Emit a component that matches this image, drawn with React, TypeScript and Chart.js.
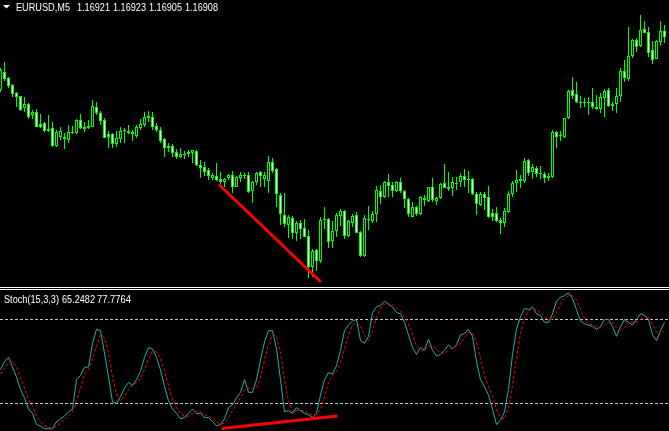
import React, { useEffect, useRef } from 'react';
import { Chart, registerables } from 'chart.js';

Chart.register(...registerables);

// ---------- text ----------
const symbolLabel = 'EURUSD,M5';
const quoteLabels = ['1.16921', '1.16923', '1.16905', '1.16908'];
const stochLabel = 'Stoch(15,3,3)';
const stochValueLabels = ['65.2482', '77.7764'];

// ---------- price data (EURUSD M5) ----------
const opens = [
  1.16802, 1.16838, 1.16826, 1.16812, 1.16796, 1.16790, 1.16766, 1.16774, 1.16752, 1.16758,
  1.16734, 1.16736, 1.16724, 1.16726, 1.16690, 1.16708, 1.16708, 1.16702, 1.16718, 1.16716,
  1.16742, 1.16728, 1.16726, 1.16728, 1.16768, 1.16756, 1.16742, 1.16714, 1.16714, 1.16694,
  1.16704, 1.16720, 1.16720, 1.16718, 1.16710, 1.16726, 1.16732, 1.16746, 1.16748, 1.16730,
  1.16722, 1.16704, 1.16686, 1.16690, 1.16678, 1.16668, 1.16674, 1.16674, 1.16676, 1.16680,
  1.16652, 1.16648, 1.16642, 1.16626, 1.16630, 1.16624, 1.16618, 1.16626, 1.16632, 1.16608,
  1.16626, 1.16632, 1.16632, 1.16600, 1.16618, 1.16638, 1.16624, 1.16620, 1.16658, 1.16644,
  1.16592, 1.16552, 1.16532, 1.16546, 1.16516, 1.16536, 1.16526, 1.16510, 1.16448, 1.16482,
  1.16460, 1.16544, 1.16544, 1.16500, 1.16520, 1.16550, 1.16560, 1.16510, 1.16536, 1.16552,
  1.16518, 1.16470, 1.16544, 1.16540, 1.16554, 1.16600, 1.16588, 1.16618, 1.16612, 1.16600,
  1.16618, 1.16600, 1.16584, 1.16548, 1.16568, 1.16554, 1.16582, 1.16580, 1.16608, 1.16580,
  1.16586, 1.16616, 1.16604, 1.16606, 1.16614, 1.16618, 1.16630, 1.16624, 1.16624, 1.16594,
  1.16572, 1.16594, 1.16588, 1.16556, 1.16556, 1.16542, 1.16536, 1.16558, 1.16594, 1.16616,
  1.16620, 1.16620, 1.16662, 1.16638, 1.16646, 1.16636, 1.16634, 1.16626, 1.16628, 1.16718,
  1.16710, 1.16708, 1.16746, 1.16802, 1.16794, 1.16778, 1.16776, 1.16778, 1.16778, 1.16768,
  1.16764, 1.16786, 1.16802, 1.16770, 1.16774, 1.16790, 1.16840, 1.16824, 1.16870, 1.16902,
  1.16890, 1.16924, 1.16918, 1.16882, 1.16864, 1.16898, 1.16921,
];
const highs = [
  1.16846, 1.16858, 1.16828, 1.16814, 1.16798, 1.16790, 1.16788, 1.16776, 1.16762, 1.16764,
  1.16754, 1.16738, 1.16752, 1.16738, 1.16722, 1.16728, 1.16716, 1.16732, 1.16730, 1.16744,
  1.16754, 1.16738, 1.16742, 1.16782, 1.16778, 1.16760, 1.16746, 1.16720, 1.16716, 1.16720,
  1.16728, 1.16726, 1.16732, 1.16722, 1.16732, 1.16744, 1.16758, 1.16760, 1.16758, 1.16736,
  1.16728, 1.16706, 1.16696, 1.16694, 1.16684, 1.16686, 1.16680, 1.16682, 1.16682, 1.16682,
  1.16662, 1.16658, 1.16646, 1.16636, 1.16656, 1.16638, 1.16626, 1.16634, 1.16640, 1.16630,
  1.16638, 1.16636, 1.16638, 1.16620, 1.16638, 1.16640, 1.16638, 1.16670, 1.16666, 1.16646,
  1.16596, 1.16596, 1.16552, 1.16550, 1.16540, 1.16542, 1.16544, 1.16522, 1.16484, 1.16484,
  1.16548, 1.16568, 1.16546, 1.16540, 1.16556, 1.16564, 1.16562, 1.16542, 1.16554, 1.16558,
  1.16520, 1.16552, 1.16570, 1.16560, 1.16610, 1.16612, 1.16620, 1.16634, 1.16618, 1.16620,
  1.16626, 1.16602, 1.16586, 1.16578, 1.16570, 1.16590, 1.16592, 1.16608, 1.16626, 1.16588,
  1.16616, 1.16654, 1.16638, 1.16628, 1.16628, 1.16636, 1.16644, 1.16640, 1.16626, 1.16598,
  1.16598, 1.16598, 1.16610, 1.16564, 1.16568, 1.16546, 1.16566, 1.16600, 1.16620, 1.16642,
  1.16632, 1.16666, 1.16664, 1.16654, 1.16650, 1.16650, 1.16638, 1.16636, 1.16722, 1.16720,
  1.16720, 1.16746, 1.16802, 1.16828, 1.16818, 1.16790, 1.16786, 1.16788, 1.16806, 1.16792,
  1.16796, 1.16804, 1.16806, 1.16778, 1.16806, 1.16846, 1.16862, 1.16928, 1.16904, 1.16906,
  1.16952, 1.16940, 1.16928, 1.16900, 1.16902, 1.16940, 1.16932,
];
const lows = [
  1.16798, 1.16820, 1.16806, 1.16788, 1.16768, 1.16760, 1.16758, 1.16744, 1.16744, 1.16728,
  1.16726, 1.16718, 1.16718, 1.16688, 1.16688, 1.16702, 1.16684, 1.16696, 1.16714, 1.16714,
  1.16724, 1.16718, 1.16724, 1.16728, 1.16752, 1.16732, 1.16706, 1.16686, 1.16686, 1.16688,
  1.16696, 1.16696, 1.16714, 1.16700, 1.16706, 1.16722, 1.16728, 1.16738, 1.16722, 1.16718,
  1.16696, 1.16668, 1.16678, 1.16668, 1.16664, 1.16666, 1.16664, 1.16668, 1.16656, 1.16650,
  1.16626, 1.16630, 1.16622, 1.16622, 1.16620, 1.16612, 1.16608, 1.16622, 1.16596, 1.16608,
  1.16618, 1.16624, 1.16596, 1.16576, 1.16612, 1.16608, 1.16608, 1.16596, 1.16636, 1.16568,
  1.16532, 1.16528, 1.16506, 1.16504, 1.16500, 1.16504, 1.16508, 1.16426, 1.16428, 1.16440,
  1.16456, 1.16524, 1.16486, 1.16486, 1.16508, 1.16530, 1.16504, 1.16508, 1.16528, 1.16516,
  1.16468, 1.16468, 1.16522, 1.16536, 1.16538, 1.16574, 1.16586, 1.16588, 1.16588, 1.16598,
  1.16596, 1.16566, 1.16548, 1.16548, 1.16550, 1.16552, 1.16570, 1.16578, 1.16578, 1.16572,
  1.16584, 1.16606, 1.16600, 1.16590, 1.16602, 1.16608, 1.16608, 1.16596, 1.16592, 1.16552,
  1.16570, 1.16562, 1.16546, 1.16540, 1.16538, 1.16514, 1.16528, 1.16556, 1.16588, 1.16598,
  1.16606, 1.16616, 1.16630, 1.16624, 1.16628, 1.16624, 1.16616, 1.16620, 1.16626, 1.16686,
  1.16700, 1.16706, 1.16744, 1.16784, 1.16776, 1.16766, 1.16768, 1.16752, 1.16764, 1.16762,
  1.16756, 1.16748, 1.16768, 1.16760, 1.16756, 1.16778, 1.16818, 1.16820, 1.16866, 1.16878,
  1.16888, 1.16916, 1.16868, 1.16854, 1.16864, 1.16890, 1.16896,
];
const closes = [
  1.16842, 1.16824, 1.16810, 1.16794, 1.16788, 1.16762, 1.16774, 1.16748, 1.16758, 1.16728,
  1.16728, 1.16720, 1.16720, 1.16690, 1.16718, 1.16720, 1.16704, 1.16718, 1.16716, 1.16742,
  1.16726, 1.16724, 1.16730, 1.16770, 1.16756, 1.16740, 1.16706, 1.16708, 1.16694, 1.16706,
  1.16720, 1.16722, 1.16716, 1.16714, 1.16728, 1.16734, 1.16748, 1.16750, 1.16728, 1.16722,
  1.16700, 1.16686, 1.16690, 1.16676, 1.16668, 1.16674, 1.16672, 1.16678, 1.16682, 1.16652,
  1.16646, 1.16638, 1.16630, 1.16632, 1.16622, 1.16618, 1.16624, 1.16632, 1.16608, 1.16628,
  1.16632, 1.16630, 1.16598, 1.16618, 1.16636, 1.16630, 1.16632, 1.16658, 1.16640, 1.16594,
  1.16554, 1.16534, 1.16548, 1.16516, 1.16536, 1.16524, 1.16508, 1.16448, 1.16480, 1.16460,
  1.16542, 1.16542, 1.16498, 1.16520, 1.16552, 1.16560, 1.16510, 1.16540, 1.16550, 1.16516,
  1.16470, 1.16546, 1.16542, 1.16554, 1.16602, 1.16588, 1.16618, 1.16610, 1.16600, 1.16618,
  1.16600, 1.16584, 1.16554, 1.16568, 1.16554, 1.16588, 1.16586, 1.16608, 1.16582, 1.16586,
  1.16614, 1.16606, 1.16608, 1.16618, 1.16616, 1.16630, 1.16622, 1.16622, 1.16594, 1.16574,
  1.16594, 1.16586, 1.16548, 1.16548, 1.16540, 1.16536, 1.16560, 1.16594, 1.16616, 1.16622,
  1.16624, 1.16660, 1.16636, 1.16648, 1.16634, 1.16634, 1.16626, 1.16630, 1.16718, 1.16708,
  1.16712, 1.16746, 1.16800, 1.16790, 1.16778, 1.16776, 1.16778, 1.16776, 1.16768, 1.16764,
  1.16788, 1.16800, 1.16770, 1.16774, 1.16790, 1.16840, 1.16826, 1.16870, 1.16902, 1.16888,
  1.16922, 1.16916, 1.16876, 1.16862, 1.16900, 1.16920, 1.16908,
];

// ---------- Stochastic (15,3,3) ----------
const stochK = [
  44, 50, 53, 46, 39, 30, 24, 16, 13, 5,
  4, 2, 2, 2, 7, 9, 11, 14, 16, 37,
  40, 46, 46, 63, 73, 72, 56, 39, 21, 20,
  25, 31, 35, 33, 37, 43, 53, 60, 59, 53,
  44, 32, 22, 16, 13, 9, 10, 13, 16, 13,
  13, 10, 10, 7, 4, 5, 9, 17, 19, 24,
  28, 37, 28, 28, 37, 51, 64, 72, 72, 59,
  37, 14, 15, 13, 17, 15, 13, 12, 10, 13,
  26, 37, 42, 41, 47, 58, 72, 76, 79, 80,
  65, 63, 68, 85, 89, 90, 93, 91, 89, 85,
  84, 78, 69, 60, 55, 60, 58, 66, 58, 54,
  55, 58, 62, 59, 62, 69, 70, 73, 68, 50,
  37, 32, 26, 16, 5, 8, 14, 30, 55, 73,
  82, 88, 87, 89, 84, 83, 78, 78, 84, 93,
  96, 97, 99, 95, 87, 79, 77, 76, 75, 73,
  75, 80, 80, 75, 68, 75, 80, 78, 76, 80,
  84, 83, 80, 69, 65, 72, 78,
];
const stochD = [
  41, 45, 49, 50, 46, 38, 31, 23, 18, 11,
  7, 4, 3, 2, 4, 6, 9, 11, 14, 22,
  31, 41, 44, 52, 61, 69, 67, 56, 39, 27,
  22, 25, 30, 33, 35, 38, 44, 52, 57, 57,
  52, 43, 33, 23, 17, 13, 11, 11, 13, 14,
  14, 12, 11, 9, 7, 5, 6, 10, 15, 20,
  24, 30, 31, 31, 31, 39, 51, 62, 69, 68,
  56, 37, 22, 14, 15, 15, 15, 13, 12, 12,
  16, 25, 35, 40, 43, 49, 59, 69, 76, 78,
  75, 69, 65, 72, 81, 88, 91, 91, 91, 88,
  86, 82, 77, 69, 61, 58, 58, 61, 61, 59,
  56, 56, 58, 60, 61, 63, 67, 71, 70, 64,
  52, 40, 32, 25, 16, 10, 9, 17, 33, 53,
  70, 81, 86, 88, 87, 85, 82, 80, 80, 85,
  91, 95, 97, 97, 94, 87, 81, 77, 76, 75,
  74, 76, 78, 78, 74, 73, 74, 78, 78, 78,
  80, 82, 82, 77, 71, 69, 72,
];
const stochLevels = [20, 80];

// ---------- hand-drawn trend lines (data coordinates) ----------
const priceTrend = [
  { x: 54.6, y: 1.16613 },
  { x: 80.1, y: 1.16418 },
];
const stochTrend = [
  { x: 55.3, y: 2.1 },
  { x: 84.2, y: 11.1 },
];

// ---------- axis ranges ----------
const xMin = -0.125;
const xMax = 167.125;
const priceMin = 1.1641;
const priceMax = 1.16982;
const stochMin = 0.36;
const stochMax = 101.07;

const GREEN = '#00FF00';

const priceHeaderPlugin = {
  id: 'priceHeader',
  afterDraw(chart: any) {
    const ctx = chart.ctx as CanvasRenderingContext2D;
    ctx.save();
    ctx.fillStyle = '#FFFFFF';
    ctx.beginPath();
    ctx.moveTo(3, 5);
    ctx.lineTo(10, 5);
    ctx.lineTo(6.5, 8.5);
    ctx.closePath();
    ctx.fill();
    ctx.font = '11px "Liberation Sans Narrow", "Liberation Sans", sans-serif';
    ctx.textBaseline = 'alphabetic';
    ctx.textAlign = 'left';
    ctx.fillText(symbolLabel, 16, 11, 54);
    quoteLabels.forEach((q, i) => ctx.fillText(q, 77 + 36 * i, 11, 33));
    ctx.restore();
  },
};

const stochHeaderPlugin = {
  id: 'stochHeader',
  afterDraw(chart: any) {
    const ctx = chart.ctx as CanvasRenderingContext2D;
    ctx.save();
    ctx.fillStyle = '#FFFFFF';
    ctx.fillRect(0, 1, chart.width, 1);
    ctx.fillRect(0, 3, chart.width, 1);
    ctx.font = '11px "Liberation Sans Narrow", "Liberation Sans", sans-serif';
    ctx.textBaseline = 'alphabetic';
    ctx.textAlign = 'left';
    ctx.fillText(stochLabel, 4, 17, 55);
    ctx.fillText(stochValueLabels[0], 62, 17, 33);
    ctx.fillText(stochValueLabels[1], 97, 17, 34);
    ctx.restore();
  },
};

export default function App() {
  const priceRef = useRef<HTMLCanvasElement | null>(null);
  const stochRef = useRef<HTMLCanvasElement | null>(null);

  useEffect(() => {
    document.body.style.margin = '0';
    document.body.style.background = '#000000';

    const bodies = opens.map((o, i) => ({ x: i, y: [o, closes[i]] }));
    const wicks = lows.map((l, i) => ({ x: i, y: [l, highs[i]] }));
    const bodyFill = opens.map((o, i) => (closes[i] < o ? '#FFFFFF' : '#000000'));

    const priceChart = new Chart(priceRef.current as HTMLCanvasElement, {
      type: 'bar',
      data: {
        datasets: [
          {
            type: 'line',
            data: priceTrend,
            borderColor: '#FF0000',
            borderWidth: 3,
            pointRadius: 0,
            order: 0,
          } as any,
          {
            type: 'bar',
            data: bodies as any,
            backgroundColor: bodyFill,
            borderColor: GREEN,
            borderWidth: 1,
            borderSkipped: false,
            barThickness: 3,
            inflateAmount: 0,
            stack: 'candles',
            order: 1,
          } as any,
          {
            type: 'bar',
            data: wicks as any,
            backgroundColor: GREEN,
            borderWidth: 0,
            barThickness: 1,
            inflateAmount: 0,
            stack: 'candles',
            order: 2,
          } as any,
        ],
      },
      options: {
        responsive: false,
        animation: false,
        events: [],
        layout: { padding: 0 },
        plugins: { legend: { display: false }, tooltip: { enabled: false } },
        scales: {
          x: { type: 'linear', min: xMin, max: xMax, display: false, offset: false },
          y: { type: 'linear', min: priceMin, max: priceMax, display: false, stacked: false },
        },
      } as any,
      plugins: [priceHeaderPlugin],
    });

    const kPoints = stochK.map((v, i) => ({ x: i, y: v }));
    const dPoints = stochD.map((v, i) => ({ x: i, y: v }));
    const levelSets = stochLevels.map((lv) => ({
      type: 'line',
      data: [
        { x: xMin, y: lv },
        { x: xMax, y: lv },
      ],
      borderColor: '#C8C8C8',
      borderWidth: 1,
      borderDash: [3, 2],
      pointRadius: 0,
      order: 4,
    }));

    const stochChart = new Chart(stochRef.current as HTMLCanvasElement, {
      type: 'line',
      data: {
        datasets: [
          {
            data: stochTrend,
            borderColor: '#FF0000',
            borderWidth: 3,
            pointRadius: 0,
            order: 0,
          },
          {
            data: dPoints,
            borderColor: '#FF0000',
            borderWidth: 1,
            borderDash: [3, 2],
            pointRadius: 0,
            tension: 0,
            order: 1,
          },
          {
            data: kPoints,
            borderColor: '#20B2AA',
            borderWidth: 1,
            pointRadius: 0,
            tension: 0,
            order: 2,
          },
          ...levelSets,
        ] as any,
      },
      options: {
        responsive: false,
        animation: false,
        events: [],
        layout: { padding: { top: 4, left: 0, right: 0, bottom: 0 } },
        plugins: { legend: { display: false }, tooltip: { enabled: false } },
        scales: {
          x: { type: 'linear', min: xMin, max: xMax, display: false },
          y: { type: 'linear', min: stochMin, max: stochMax, display: false },
        },
      } as any,
      plugins: [stochHeaderPlugin],
    });

    return () => {
      priceChart.destroy();
      stochChart.destroy();
    };
  }, []);

  return (
    <div style={{ position: 'relative', width: 669, height: 431, background: '#000000', overflow: 'hidden' }}>
      <canvas
        ref={priceRef}
        width={669}
        height={286}
        style={{ position: 'absolute', left: 0, top: 0, width: 669, height: 286, display: 'block' }}
      />
      <canvas
        ref={stochRef}
        width={669}
        height={145}
        style={{ position: 'absolute', left: 0, top: 286, width: 669, height: 145, display: 'block' }}
      />
    </div>
  );
}
